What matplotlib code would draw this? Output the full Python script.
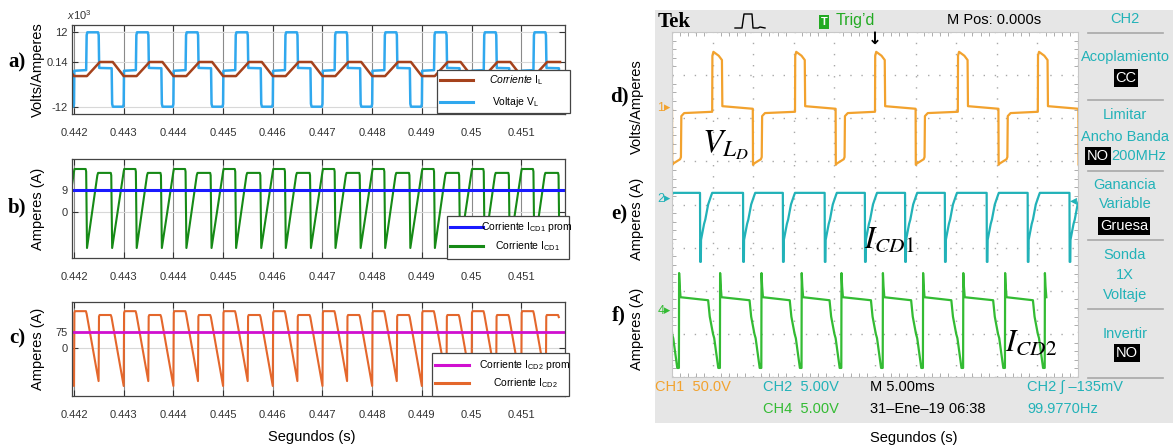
import numpy as np
import matplotlib
matplotlib.use("Agg")
import matplotlib.pyplot as plt
from matplotlib.patches import Rectangle
from matplotlib.lines import Line2D

W, H = 1173, 448
SANS = "Liberation Sans"
SERIF = "Liberation Serif"
plt.rcParams["mathtext.fontset"] = "custom"
plt.rcParams["mathtext.rm"] = SANS
plt.rcParams["mathtext.it"] = SANS + ":italic"
plt.rcParams["mathtext.sf"] = SANS

# ---- simulation (left): one 1 ms period, repeated ----
period = 0.001
period_starts = [0.441, 0.442, 0.443, 0.444, 0.445, 0.446, 0.447, 0.448, 0.449, 0.450, 0.451]
xticks = [0.442, 0.443, 0.444, 0.445, 0.446, 0.447, 0.448, 0.449, 0.450, 0.451]
xtick_labels = ["0.442", "0.443", "0.444", "0.445", "0.446", "0.447", "0.448", "0.449", "0.45", "0.451"]

vl_phase = [0.000, 0.006, 0.245, 0.255, 0.268, 0.485, 0.497, 0.507, 0.758, 0.768, 0.782, 0.988]
vl_value = [-11.0, -0.4, -0.2, 11.0, 11.9, 11.9, 11.0, 0.5, 0.4, -11.0, -11.9, -11.9]
il_phase = [0.0, 0.26, 0.52, 0.78]
il_value = [-2.1, -2.1, 2.4, 2.4]
a_ticks = [-12, 2.4, 12]
a_tick_labels = ["-12", "0.14", "12"]

icd1_phase = [0.000, 0.010, 0.235, 0.245, 0.262, 0.470, 0.485, 0.740, 0.750, 0.768]
icd1_value = [16.5, 17.6, 17.6, 16.5, -14.8, 15.0, 16.0, 16.0, 15.0, -14.8]
icd1_avg = 9
b_ticks = [0, 9]

icd2_phase = [0.000, 0.008, 0.020, 0.240, 0.255, 0.495, 0.503, 0.515, 0.740, 0.755]
icd2_value = [-178, 165, 173, 173, 160, -155, 148, 155, 155, 145]
icd2_avg = 75
c_ticks = [0, 75]

# ---- oscilloscope (right), time and amplitude in divisions ----
ch1_starts = [-1.0, 0.99, 3.03, 5.0, 7.04, 9.01]
ch1_phase = [0.000, 0.005, 0.03, 0.16, 0.24, 0.25, 1.00, 1.005, 1.03, 1.20, 1.22, 1.23, 1.30]
ch1_value = [2.15, 3.45, 3.54, 3.45, 3.35, 2.28, 2.22, 0.92, 0.95, 1.05, 1.10, 2.05, 2.12]
ch2_starts = [-0.28, 0.69, 1.75, 2.73, 3.76, 4.75, 5.74, 6.72, 7.75, 8.76, 9.79]
ch2_phase = [0.0, 0.005, 0.02, 0.025, 0.10, 0.13, 0.20, 0.28, 0.30]
ch2_value = [0.27, -1.33, -1.33, -0.82, -0.45, -0.35, 0.0, 0.22, 0.27]
ch4_starts = [-1.11, -0.12, 0.89, 1.91, 2.90, 3.88, 4.90, 5.89, 6.88, 7.91, 8.89]
ch4_phase = [0.0, 0.04, 0.12, 0.15, 0.25, 0.29, 0.295, 0.31, 0.33]
ch4_value = [-2.22, -2.6, -3.0, -3.1, -3.79, -3.79, -1.59, -1.9, -2.15]


def tile(starts, phase, value, per=1.0):
    t = np.concatenate([s + np.array(phase) * per for s in starts])
    v = np.tile(value, len(starts))
    return t, v


def fx(x):
    return x / W


def fy(y):
    return 1 - y / H


fig = plt.figure(figsize=(W / 100, H / 100), dpi=100)


def ftext(x, y, s, **kw):
    kw.setdefault("va", "center")
    kw.setdefault("family", SANS)
    fig.text(fx(x), fy(y), s, **kw)


def sim_axes(top, bottom, ylim, yticks, ylabels, ylabel):
    ax = fig.add_axes([fx(72), fy(bottom), (565 - 72) / W, (bottom - top) / H])
    ax.set_xlim(0.44196, 0.45188)
    ax.set_ylim(*ylim)
    ax.set_xticks(xticks)
    ax.set_xticklabels(xtick_labels, family=SANS, fontsize=8, color="#333333")
    ax.set_yticks(yticks)
    ax.set_yticklabels(ylabels, family=SANS, fontsize=8, color="#333333")
    ax.tick_params(direction="in", top=True, right=True, length=4, color="#333333")
    ax.tick_params(axis="x", pad=10)
    ax.tick_params(axis="y", pad=3)
    ax.grid(axis="x", color="#8a8a8a", lw=0.8)
    ax.grid(axis="y", color="#d8d8d8", lw=0.8)
    for sp in ax.spines.values():
        sp.set_color("#444444")
        sp.set_linewidth(0.9)
    ax.set_ylabel(ylabel, family=SANS, fontsize=10.5)
    ax.yaxis.set_label_coords(-0.055, 0.5)
    return ax


def legend_box(x0, y0, x1, y1, line_x0, line_x1, text_x, rows):
    fig.add_artist(Rectangle((fx(x0), fy(y1)), (x1 - x0) / W, (y1 - y0) / H,
                             transform=fig.transFigure, facecolor="white",
                             edgecolor="#444444", lw=0.9, zorder=5))
    for label, color, ry in rows:
        fig.add_artist(Line2D([fx(line_x0), fx(line_x1)], [fy(ry), fy(ry)],
                              transform=fig.transFigure, color=color, lw=2.2, zorder=6))
        ftext(text_x, ry, label, ha="center", fontsize=7.5, zorder=6)


# a) V_L and I_L
ax_a = sim_axes(25, 114, (-14.24, 14.24), a_ticks, a_tick_labels, "Volts/Amperes")
t, v = tile(period_starts, vl_phase, vl_value, period)
ax_a.plot(t, v, color="#30a8ee", lw=1.8)
t, v = tile(period_starts, il_phase, il_value, period)
ax_a.plot(t, v, color="#a5421c", lw=1.8)
ax_a.text(-0.01, 1.03, r"$x10^3$", transform=ax_a.transAxes, fontsize=8, ha="left",
          va="bottom", color="#333333")
legend_box(437, 70, 570, 113, 440, 473, 516,
           [(r"$\mathit{Corriente}$ I$_{\mathrm{L}}$", "#a5421c", 80),
            (r"Voltaje V$_{\mathrm{L}}$", "#30a8ee", 102)])

# b) I_CD1
ax_b = sim_axes(159, 258, (-18.9, 21.7), b_ticks, ["0", "9"], "Amperes (A)")
t, v = tile(period_starts, icd1_phase, icd1_value, period)
ax_b.plot(t, v, color="#168a16", lw=1.5)
ax_b.axhline(icd1_avg, color="#1a1aff", lw=2.2)
legend_box(447, 216, 569, 259, 450, 483, 527,
           [(r"Corriente I$_{\mathrm{CD1}}$ prom", "#1a1aff", 227),
            (r"Corriente I$_{\mathrm{CD1}}$", "#168a16", 246)])

# c) I_CD2
ax_c = sim_axes(302, 396, (-225, 216), c_ticks, ["0", "75"], "Amperes (A)")
t, v = tile(period_starts, icd2_phase, icd2_value, period)
ax_c.plot(t, v, color="#e4672c", lw=1.5)
ax_c.axhline(icd2_avg, color="#d010d0", lw=2.0)
legend_box(432, 353, 569, 396, 435, 469, 525,
           [(r"Corriente I$_{\mathrm{CD2}}$ prom", "#d010d0", 365),
            (r"Corriente I$_{\mathrm{CD2}}$", "#e4672c", 383)])

ftext(312, 437, "Segundos (s)", ha="center", fontsize=10.5)
for lab, y in [("a)", 62), ("b)", 207), ("c)", 338)]:
    ftext(17, y, lab, ha="center", family=SERIF, fontsize=15, weight="bold")

# ---- oscilloscope screen ----
GREY = "#e6e6e6"
CYAN = "#22b2b8"
ORANGE = "#f2a22e"
GREEN = "#33bb33"
fig.add_artist(Rectangle((fx(655), fy(423)), (1173 - 655) / W, (423 - 10) / H,
                         transform=fig.transFigure, facecolor=GREY, edgecolor="none", zorder=0))

sc = fig.add_axes([fx(672), fy(377), (1078 - 672) / W, (377 - 32) / H])
sc.set_facecolor("white")
sc.set_xlim(0, 10)
sc.set_ylim(-4, 4)
sc.set_xticks(range(11))
sc.set_yticks(range(-4, 5))
sc.set_xticks(np.arange(0, 10.01, 0.2), minor=True)
sc.set_yticks(np.arange(-4, 4.01, 0.2), minor=True)
sc.tick_params(which="both", labelbottom=False, labelleft=False, direction="in",
               top=True, right=True, color="#a0a0a0")
sc.tick_params(which="major", length=0)
sc.tick_params(which="minor", length=3)
sc.grid(True, which="major", color="#a8a8a8", lw=1.0, linestyle=(0, (1, 7)))
for sp in sc.spines.values():
    sp.set_color("#c8c8c8")

t, v = tile(ch1_starts, ch1_phase, ch1_value)
sc.plot(t, v, color=ORANGE, lw=1.6)
t, v = tile(ch2_starts, ch2_phase, ch2_value)
sc.plot(t, v, color=CYAN, lw=1.6)
t, v = tile(ch4_starts, ch4_phase, ch4_value)
sc.plot(t, v, color=GREEN, lw=1.6)

sc.text(0.74, 1.22, r"$V_{L_D}$", fontsize=24, math_fontfamily="stix")
sc.text(4.72, -1.0, r"$I_{CD1}$", fontsize=22, math_fontfamily="stix")
sc.text(8.2, -3.4, r"$I_{CD2}$", fontsize=22, math_fontfamily="stix")

# channel markers
ftext(664, 108, "1\u25b8", ha="center", color=ORANGE, fontsize=9, family=[SANS, "DejaVu Sans"])
ftext(664, 199, "2\u25b8", ha="center", color=CYAN, fontsize=9, family=[SANS, "DejaVu Sans"])
ftext(664, 311, "4\u25b8", ha="center", color=GREEN, fontsize=9, family=[SANS, "DejaVu Sans"])
ftext(1073, 200, "\u25c2", ha="center", color=CYAN, fontsize=10, family="DejaVu Sans")
ftext(875, 39, "\u2193", ha="center", color="black", fontsize=12, family="DejaVu Sans", weight="bold")

# header
ftext(658, 22, "Tek", family=SERIF, weight="bold", fontsize=15)
fig.add_artist(Line2D([fx(x) for x in [735, 742, 744, 745, 752, 753, 758, 760, 765]],
                      [fy(y) for y in [28, 28, 14, 14, 14, 28, 28, 27, 28]],
                      transform=fig.transFigure, color="black", lw=1.0))
ftext(824, 22, "T", ha="center", color="white", fontsize=8, weight="bold",
      bbox=dict(facecolor="#22aa22", edgecolor="none", pad=1.5))
ftext(836, 21, "Trig\u2019d", color="#22aa22", fontsize=11.5)
ftext(947, 20, "M Pos: 0.000s", fontsize=10.5)

# right menu
for y in [33, 100, 171, 240, 309, 378]:
    fig.add_artist(Line2D([fx(1088), fx(1163)], [fy(y), fy(y)], transform=fig.transFigure,
                          color="#a8a8a8", lw=1.2))
menu = [("CH2", 19), ("Acoplamiento", 57), ("Limitar", 115), ("Ancho Banda", 137),
        ("Ganancia", 185), ("Variable", 204), ("Sonda", 255), ("1X", 275),
        ("Voltaje", 295), ("Invertir", 334)]
for s, y in menu:
    ftext(1125, y, s, ha="center", color=CYAN, fontsize=10.5)
box = dict(facecolor="black", edgecolor="none", pad=1.2)
ftext(1126, 78, "CC", ha="center", color="white", fontsize=10.5, bbox=box)
ftext(1098, 156, "NO", ha="center", color="white", fontsize=10.5, bbox=box)
ftext(1139, 156, "200MHz", ha="center", color=CYAN, fontsize=10.5)
ftext(1124, 226, "Gruesa", ha="center", color="white", fontsize=10.5, bbox=box)
ftext(1127, 353, "NO", ha="center", color="white", fontsize=10.5, bbox=box)

# bottom status bar
ftext(655, 387, "CH1  50.0V", color=ORANGE, fontsize=10.5)
ftext(763, 387, "CH2  5.00V", color=CYAN, fontsize=10.5)
ftext(763, 409, "CH4  5.00V", color=GREEN, fontsize=10.5)
ftext(870, 387, "M 5.00ms", fontsize=10.5)
ftext(870, 409, "31\u2013Ene\u201319 06:38", fontsize=10.5)
ftext(1027, 387, "CH2 \u222b \u2013135mV", color=CYAN, fontsize=10.5, family=[SANS, "DejaVu Sans"])
ftext(1027, 409, "99.9770Hz", color=CYAN, fontsize=10.5)

ftext(914, 438, "Segundos (s)", ha="center", fontsize=10.5)
for lab, y in [("d)", 96), ("e)", 214), ("f)", 315)]:
    ftext(619, y, lab, ha="center", family=SERIF, fontsize=15, weight="bold")
for lab, y in [("Volts/Amperes", 107), ("Amperes (A)", 219), ("Amperes (A)", 329)]:
    ftext(637, y, lab, ha="center", fontsize=10.5, rotation=90)

fig.savefig("out.png", dpi=100)
